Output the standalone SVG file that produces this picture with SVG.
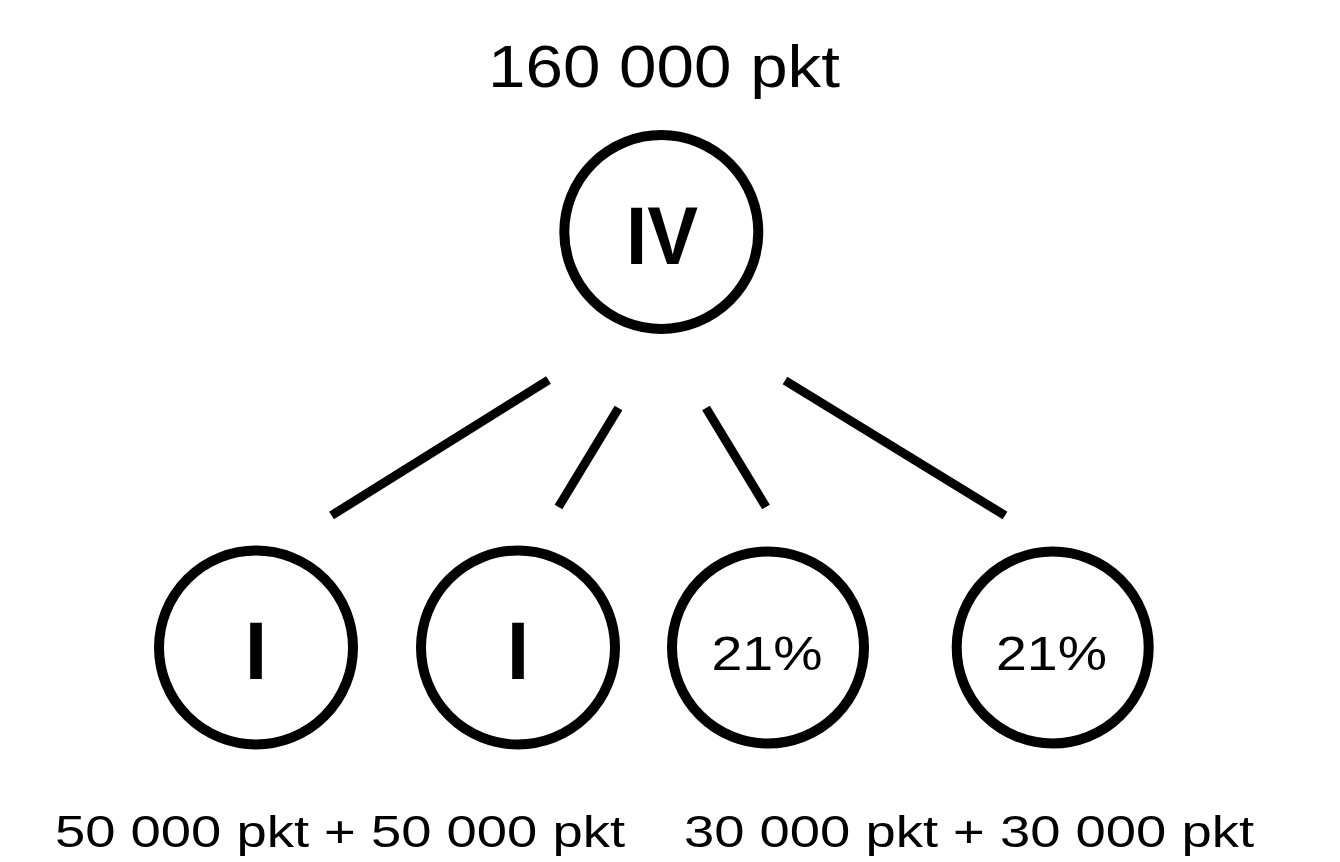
<svg xmlns="http://www.w3.org/2000/svg" width="1340" height="862" viewBox="0 0 1340 862">
  <style>
    .node { fill: #ffffff; stroke: #000000; stroke-width: 10; }
    .edge { stroke: #000000; stroke-width: 9; stroke-linecap: butt; fill: none; }
    .lbl { font-family: "Liberation Sans", Arial, Helvetica, sans-serif; fill: #000000; }
    .roman { font-family: "Liberation Sans", Arial, Helvetica, sans-serif; font-weight: bold; font-size: 81px; fill: #000000; }
    .pct { font-family: "Liberation Sans", Arial, Helvetica, sans-serif; font-size: 49px; fill: #000000; }
  </style>
  <rect x="0" y="0" width="1340" height="862" fill="#ffffff"/>

  <g id="connectors">
    <line class="edge" x1="548.5" y1="380" x2="331.5" y2="515.5"/>
    <line class="edge" x1="618.5" y1="408" x2="558.5" y2="507"/>
    <line class="edge" x1="706" y1="408" x2="766" y2="507"/>
    <line class="edge" x1="785" y1="380.5" x2="1005" y2="515.5"/>
  </g>

  <g id="title">
    <text class="lbl" x="488" y="87" font-size="60" textLength="352" lengthAdjust="spacingAndGlyphs">160 000 pkt</text>
  </g>

  <g id="node-iv">
    <circle class="node" cx="661.3" cy="232" r="97"/>
    <text class="roman" x="626" y="263.5" font-size="80" textLength="72" lengthAdjust="spacingAndGlyphs">IV</text>
  </g>

  <g id="node-i-1">
    <circle class="node" cx="256" cy="647.5" r="97"/>
    <text class="roman" x="256" y="679" text-anchor="middle">I</text>
  </g>

  <g id="node-i-2">
    <circle class="node" cx="518" cy="647.5" r="97"/>
    <text class="roman" x="518" y="679" text-anchor="middle">I</text>
  </g>

  <g id="node-pct-1">
    <circle class="node" cx="768" cy="647.5" r="96"/>
    <text class="pct" x="711.5" y="669.5" textLength="111" lengthAdjust="spacingAndGlyphs">21%</text>
  </g>

  <g id="node-pct-2">
    <circle class="node" cx="1052.7" cy="647.5" r="96"/>
    <text class="pct" x="996" y="669.5" textLength="111" lengthAdjust="spacingAndGlyphs">21%</text>
  </g>

  <g id="label-left">
    <text class="lbl" x="55" y="847" font-size="45" textLength="570" lengthAdjust="spacingAndGlyphs">50 000 pkt + 50 000 pkt</text>
  </g>

  <g id="label-right">
    <text class="lbl" x="684" y="847" font-size="45" textLength="570" lengthAdjust="spacingAndGlyphs">30 000 pkt + 30 000 pkt</text>
  </g>
</svg>
